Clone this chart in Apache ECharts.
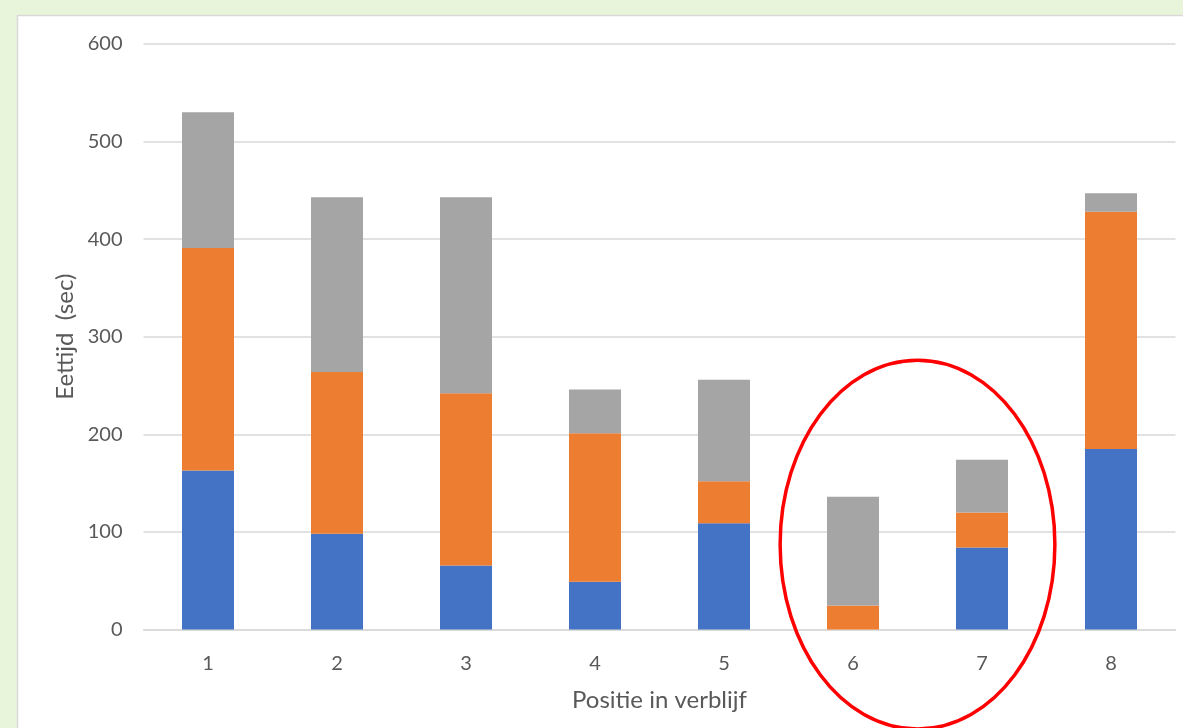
<!DOCTYPE html>
<html>
<head>
<meta charset="utf-8">
<script src="https://cdn.jsdelivr.net/npm/echarts@6/dist/echarts.min.js"></script>
<style>
html,body{margin:0;padding:0;background:#E9F5DB;}
#chart{width:1183px;height:728px;}
</style>
</head>
<body>
<div id="chart"></div>
<script>
const categories = ['1','2','3','4','5','6','7','8'];
const blueValues = [163, 98, 65.5, 49, 109, 0, 84, 185];
const orangeValues = [228, 166, 176.5, 152, 43, 24.5, 36, 243];
const grayValues = [139, 179, 201, 45, 104, 111.5, 54, 19];
const yTicks = [0, 100, 200, 300, 400, 500, 600];
const xTitle = 'Positie in verblijf';
const yTitle = 'Eettijd  (sec)';

const font = 'Lato, "Open Sans", sans-serif';
const textColor = '#595959';

const chart = echarts.init(document.getElementById('chart'));

function seg(name, data, color) {
  return {
    name: name, type: 'bar', stack: 'total', data: data,
    barWidth: 52,
    itemStyle: { color: color },
    emphasis: { disabled: true }
  };
}

chart.setOption({
  backgroundColor: '#E9F5DB',
  animation: false,
  grid: { left: 143.5, right: 7.5, top: 44, bottom: 98.5, containLabel: false },
  xAxis: {
    type: 'category',
    data: categories,
    name: xTitle,
    nameLocation: 'middle',
    nameGap: 59,
    nameTextStyle: { fontFamily: font, fontSize: 24, color: textColor },
    axisLine: { show: true, lineStyle: { color: '#D9D9D9', width: 1.5 } },
    axisTick: { show: false },
    axisLabel: { fontFamily: font, fontSize: 20, color: textColor, margin: 24 }
  },
  yAxis: {
    type: 'value',
    min: yTicks[0],
    max: yTicks[yTicks.length - 1],
    interval: yTicks[1] - yTicks[0],
    name: yTitle,
    nameLocation: 'middle',
    nameGap: 66,
    nameTextStyle: { fontFamily: font, fontSize: 24, color: textColor },
    axisLine: { show: false },
    axisTick: { show: false },
    splitLine: { lineStyle: { color: '#D9D9D9', width: 1.5 } },
    axisLabel: { fontFamily: font, fontSize: 20, color: textColor, margin: 21 }
  },
  series: [
    seg('A', blueValues, '#4472C4'),
    seg('B', orangeValues, '#ED7D31'),
    seg('C', grayValues, '#A5A5A5')
  ]
});

// Decorations: white panel and red annotation ellipse around categories 6 and 7
const p6 = chart.convertToPixel({ xAxisIndex: 0 }, categories[5]);
const p7 = chart.convertToPixel({ xAxisIndex: 0 }, categories[6]);
const band = p7 - p6;
const cy = chart.convertToPixel({ yAxisIndex: 0 }, 87);
const unit = chart.convertToPixel({ yAxisIndex: 0 }, 0) - chart.convertToPixel({ yAxisIndex: 0 }, 100);

chart.setOption({
  graphic: [
    {
      type: 'rect', z: -10, silent: true,
      shape: { x: 17.5, y: 15.5, width: 1300, height: 900 },
      style: { fill: '#FFFFFF', stroke: '#D9D9D9', lineWidth: 1.5 }
    },
    {
      type: 'ellipse', z: 100, silent: true,
      shape: { cx: (p6 + p7) / 2, cy: cy, rx: band * 1.065, ry: unit * 1.89 },
      style: { fill: 'none', stroke: '#FF0000', lineWidth: 3.5 }
    }
  ]
});
</script>
</body>
</html>
